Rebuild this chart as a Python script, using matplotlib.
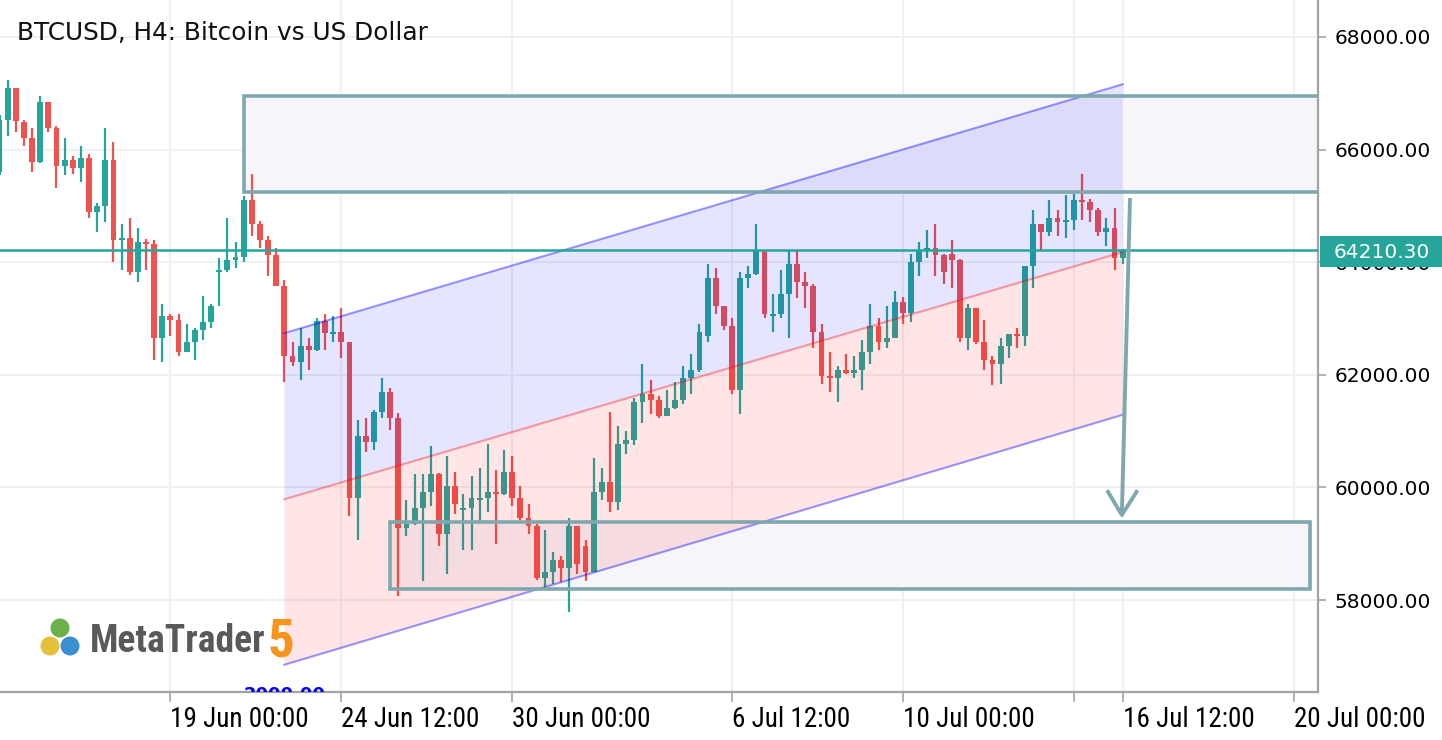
import matplotlib
matplotlib.use("Agg")
import numpy as np
import matplotlib.pyplot as plt
from matplotlib.patches import Rectangle, Polygon, Circle

# BTCUSD H4 candles (oldest first)
opens = [65610, 66530, 67090, 66490, 66200, 65780, 66840, 66390, 65710, 65810,
         65680, 65850, 64900, 65000, 65810, 64400, 64430, 63830, 64360, 64330,
         62660, 63040, 62980, 62410, 62580, 62790, 62930, 63830, 63860, 64040,
         64100, 65100, 64680, 64400, 64120, 63580, 62340, 62230, 62510, 62440,
         62960, 62730, 62760, 62580, 59820, 60910, 60810, 61340, 61690, 61240,
         59280, 59350, 59630, 59920, 60240, 59170, 60030, 59600, 59640, 59780,
         59810, 59920, 59880, 60270, 59810, 59460, 59310, 58390, 58500, 58710,
         58570, 59310, 58960, 58500, 59920, 60100, 59740, 60770, 60840, 61520,
         61660, 61560, 61270, 61410, 61550, 61940, 62090, 62690, 63720, 63220,
         62870, 61730, 63720, 63790, 64190, 63050, 63080, 63430, 63970, 63650,
         63580, 62760, 61980, 61940, 62090, 62040, 62090, 62410, 62870, 62590,
         62660, 63300, 63090, 64000, 64210, 64250, 64120, 64150, 64040, 62660,
         63180, 62590, 62270, 62200, 62510, 62720, 62690, 63930, 64670, 64540,
         64790, 64720, 64750, 65100, 65070, 64930, 64540, 64610, 64080]
highs = [66610, 67240, 67100, 66530, 66380, 66950, 66850, 66420, 66200, 65890,
         66060, 65920, 65060, 66380, 66130, 64680, 64780, 64600, 64420, 64390,
         63250, 63080, 63080, 62900, 62830, 63400, 63250, 64070, 64780, 64350,
         65180, 65560, 64740, 64460, 64250, 63680, 62590, 62830, 62650, 63000,
         63080, 63040, 63190, 62590, 61200, 61230, 61370, 61940, 61760, 61330,
         59780, 60240, 60240, 60740, 60250, 60560, 60270, 59880, 60200, 60340,
         60770, 60310, 60660, 60560, 60030, 59700, 59350, 59240, 58850, 58780,
         59460, 59320, 59070, 60520, 60340, 61340, 61090, 61000, 61590, 62190,
         61910, 61620, 61730, 61870, 62160, 62370, 62900, 63970, 63900, 63230,
         63010, 63830, 63930, 64680, 64200, 63430, 63860, 64190, 64190, 63830,
         63610, 62900, 62400, 62160, 62370, 62340, 62620, 63250, 63000, 63220,
         63480, 63390, 64140, 64350, 64570, 64670, 64140, 64390, 64050, 63250,
         63190, 62970, 62330, 62650, 62730, 62830, 63940, 64930, 64680, 65100,
         64930, 65200, 65220, 65560, 65130, 64970, 64780, 64970, 64230]
lows = [65550, 66240, 66320, 66070, 65610, 65770, 66320, 65320, 65540, 65570,
        65430, 64790, 64540, 64720, 64010, 63860, 63780, 63650, 63860, 62260,
        62230, 62690, 62340, 62400, 62260, 62620, 62840, 63230, 63830, 63900,
        64010, 64470, 64260, 63760, 63570, 61880, 62160, 61910, 62090, 62430,
        62440, 62580, 62300, 59490, 59070, 60630, 60660, 61240, 61020, 58070,
        59140, 59330, 58330, 59670, 58960, 58460, 59530, 58890, 58890, 59390,
        59560, 59000, 59870, 59670, 59420, 59170, 58360, 58210, 58280, 58320,
        57790, 58470, 58330, 58490, 59780, 59560, 59600, 60600, 60750, 61140,
        61300, 61230, 61260, 61400, 61480, 61660, 62050, 62580, 63080, 62800,
        61660, 61300, 63540, 63780, 63010, 62760, 63010, 62650, 63360, 63190,
        62480, 61840, 61690, 61520, 62010, 61950, 61730, 62190, 62440, 62480,
        62650, 62910, 62940, 63760, 64080, 63760, 63620, 63550, 62590, 62440,
        62550, 62090, 61810, 61840, 62300, 62480, 62520, 63550, 64220, 64470,
        64470, 64430, 64570, 64750, 64720, 64470, 64280, 63860, 63970]
closes = [66530, 67090, 66500, 66210, 65780, 66840, 66390, 65710, 65810, 65680,
          65850, 64900, 65000, 65810, 64400, 64430, 63830, 64350, 64330, 62660,
          63040, 62980, 62410, 62580, 62790, 62930, 63220, 63860, 64040, 64100,
          65100, 64680, 64400, 64120, 63580, 62340, 62230, 62510, 62440, 62960,
          62740, 62760, 62580, 59820, 60910, 60810, 61340, 61690, 61240, 59280,
          59350, 59630, 59920, 60240, 59170, 60030, 59700, 59640, 59810, 59810,
          59920, 59880, 60270, 59810, 59460, 59310, 58390, 58500, 58710, 58570,
          59310, 58640, 58500, 59920, 60100, 59740, 60770, 60840, 61520, 61660,
          61560, 61270, 61410, 61550, 61940, 62090, 62760, 63720, 63220, 62870,
          61730, 63720, 63790, 64190, 63080, 63080, 63430, 63970, 63650, 63580,
          62760, 61980, 61940, 62090, 62040, 62090, 62410, 62870, 62590, 62660,
          63300, 63090, 64000, 64210, 64250, 64120, 63830, 64040, 62660, 63180,
          62590, 62270, 62200, 62510, 62720, 62690, 63930, 64670, 64540, 64790,
          64720, 64750, 65100, 65070, 64930, 64540, 64610, 64080, 64210.30]

last_price = 64210.30

# regression channel (bar index, price)
chan_x = [35, 138]
chan_upper = [62740, 67160]
chan_mid = [59790, 64180]
chan_lower = [56850, 61290]

# supply / demand zones: (left bar, right bar, bottom price, top price)
zone_top = (30, 175, 65250, 66960)
zone_bottom = (48, 161, 58200, 59380)

# projection arrow
arrow_x = [138.9, 137.9]
arrow_y = [65140, 59510]

price_ticks = [58000, 60000, 62000, 64000, 66000, 68000]
date_pos = [21, 42, 63, 90, 111, 132, 138, 159]
date_labels = ["19 Jun 00:00", "24 Jun 12:00", "30 Jun 00:00", "6 Jul 12:00",
               "10 Jul 00:00", "", "16 Jul 12:00", "20 Jul 00:00"]

UP = "#26a69a"
DOWN = "#ef5350"
ZONE = "#7fa8ae"
NARROW = ["Roboto Condensed", "PT Sans Narrow", "Liberation Sans", "DejaVu Sans"]

fig = plt.figure(figsize=(14.42, 7.40), dpi=100)
ax = fig.add_axes([0, 48 / 740, 1318 / 1442, 692 / 740])
ax.set_xlim(0.06, 162.0)
ax.set_ylim(56366, 68657)

# grid
for p in price_ticks:
    ax.axhline(p, color="#f0f0f0", lw=1.5, zorder=0)
for d in date_pos:
    ax.axvline(d, color="#f0f0f0", lw=1.5, zorder=0)

# zone fills (under candles)
for z in (zone_top, zone_bottom):
    ax.add_patch(Rectangle((z[0], z[2]), z[1] - z[0], z[3] - z[2],
                           facecolor="#f5f5fa", edgecolor="none", zorder=1))

# candles
idx = np.arange(len(opens))
o = np.array(opens)
c = np.array(closes)
colors = [UP if cc >= oo else DOWN for oo, cc in zip(o, c)]
ax.vlines(idx, lows, highs, colors=colors, lw=1.6, zorder=2)
body_bottom = np.minimum(o, c)
body_h = np.maximum(np.abs(c - o), 35)
ax.bar(idx, body_h, bottom=body_bottom, width=0.72, color=colors, zorder=2)

# channel fills on top of candles
xs = np.array(chan_x)
ax.add_patch(Polygon(np.column_stack([np.r_[xs, xs[::-1]], np.r_[chan_upper, chan_mid[::-1]]]),
                     closed=True, facecolor="blue", alpha=0.1, edgecolor="none", zorder=3))
ax.add_patch(Polygon(np.column_stack([np.r_[xs, xs[::-1]], np.r_[chan_mid, chan_lower[::-1]]]),
                     closed=True, facecolor="red", alpha=0.1, edgecolor="none", zorder=3))
ax.plot(xs, chan_upper, color="blue", alpha=0.4, lw=1.5, zorder=4)
ax.plot(xs, chan_lower, color="blue", alpha=0.4, lw=1.5, zorder=4)
ax.plot(xs, chan_mid, color="red", alpha=0.35, lw=1.5, zorder=4)

# last price line
ax.axhline(last_price, color=UP, lw=1.8, zorder=5)

# zone borders
for z in (zone_top, zone_bottom):
    ax.add_patch(Rectangle((z[0], z[2]), z[1] - z[0], z[3] - z[2],
                           facecolor="none", edgecolor=ZONE, lw=2.6, zorder=6))

# arrow
ax.plot(arrow_x, arrow_y, color=ZONE, lw=2.8, zorder=6, solid_capstyle="butt")
ax.plot([136.2, arrow_x[1], 139.7], [59920, arrow_y[1], 59920], color=ZONE, lw=2.8, zorder=6)

# half hidden blue price label of the channel
ax.text(35, 56314, "2000.00", color="#0000ff", fontsize=13, fontweight="bold",
        ha="center", va="center", zorder=6, clip_on=True)

# axes styling
for s in ("top", "left"):
    ax.spines[s].set_visible(False)
for s in ("bottom", "right"):
    ax.spines[s].set_color("#a3a3a3")
    ax.spines[s].set_linewidth(1.6)
ax.yaxis.tick_right()
ax.set_yticks(price_ticks)
ax.set_yticklabels(["%.2f" % p for p in price_ticks])
ax.tick_params(axis="y", length=6, width=1.2, color="#a3a3a3", pad=6,
               labelsize=14.5, labelcolor="black")
ax.set_xticks(date_pos)
ax.set_xticklabels(date_labels, family=NARROW, fontsize=19.5, ha="left")
ax.tick_params(axis="x", length=7, width=1.2, color="#a3a3a3", pad=3,
               labelcolor="black")

# current price tag
fig.patches.append(Rectangle((1320, 740 - 267), 122, 31, transform=None, facecolor=UP,
                             edgecolor="none", zorder=5, figure=fig))
fig.text(1382 / 1442, 1 - 252 / 740, "%.2f" % last_price, fontsize=14.5, color="white",
         ha="center", va="center", zorder=6)

# title
fig.text(17 / 1442, 1 - 33 / 740, "BTCUSD, H4: Bitcoin vs US Dollar", fontsize=17.8,
         va="center", ha="left", color="#111111")

# MetaTrader 5 logo
for (cx, cy, col) in [(60, 628, "#6ab04c"), (50, 646, "#e3c13b"), (70, 646, "#3a8fd0")]:
    fig.patches.append(Circle((cx, 740 - cy), 9.5, transform=None, facecolor=col,
                              edgecolor="none", figure=fig))
fig.text(90 / 1442, 1 - 641 / 740, "MetaTrader", fontsize=27, fontweight="bold",
         family=NARROW, color="#595959", va="center", ha="left")
fig.text(268 / 1442, 1 - 642 / 740, "5", fontsize=38, fontweight="bold",
         family=NARROW, color="#f7941d", va="center", ha="left")

fig.savefig("out.png", dpi=100)
